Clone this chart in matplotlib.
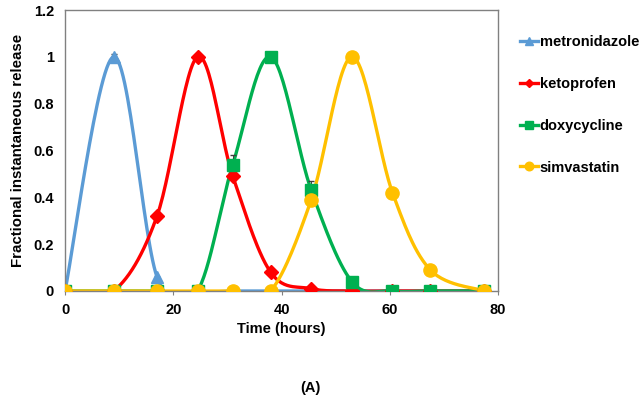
import numpy as np
import matplotlib
matplotlib.use("Agg")
import matplotlib.pyplot as plt
from matplotlib.ticker import FuncFormatter

time_h = [0, 9, 17, 24.5, 31, 38, 45.5, 53, 60.5, 67.5, 77.5]
metronidazole = [0, 1.0, 0.06, 0.0, 0, 0, 0, 0, 0, 0, 0]
ketoprofen = [0, 0, 0.32, 1.0, 0.49, 0.08, 0.01, 0.0, 0, 0, 0]
doxycycline = [0, 0, 0, 0, 0.54, 1.0, 0.43, 0.04, 0, 0, 0]
simvastatin = [0, 0, 0, 0, 0, 0, 0.39, 1.0, 0.42, 0.09, 0]
doxy_err = [0, 0, 0, 0, 0.04, 0, 0.04, 0, 0, 0, 0]
metro_err = [0, 0.01, 0, 0, 0, 0, 0, 0, 0, 0, 0]

series_names = ["metronidazole", "ketoprofen", "doxycycline", "simvastatin"]
colors = ["#5B9BD5", "#FF0000", "#00B050", "#FFC000"]
markers = ["^", "D", "s", "o"]
msizes = [8.5, 7.0, 8.5, 9.5]

plt.rcParams['font.family'] = ['Liberation Sans', 'DejaVu Sans']
plt.rcParams['font.weight'] = 'bold'


def smooth(x, y, n=30):
    P = np.column_stack([x, y]).astype(float)
    out = []
    m = len(P)
    for i in range(m - 1):
        p0 = P[i - 1] if i > 0 else P[i]
        p1 = P[i]
        p2 = P[i + 1]
        p3 = P[i + 2] if i + 2 < m else P[i + 1]
        c1 = p1 + (p2 - p0) / 6.0
        c2 = p2 - (p3 - p1) / 6.0
        t = np.linspace(0, 1, n)[:, None]
        seg = ((1 - t) ** 3) * p1 + 3 * ((1 - t) ** 2) * t * c1 + 3 * (1 - t) * t ** 2 * c2 + t ** 3 * p2
        if i > 0:
            seg = seg[1:]
        out.append(seg)
    out = np.vstack(out)
    return out[:, 0], out[:, 1]


fig = plt.figure(figsize=(6.43, 4.04), dpi=100)
ax = fig.add_axes([65 / 643, 1 - 291 / 404, (498 - 65) / 643, (291 - 10) / 404])

data = [metronidazole, ketoprofen, doxycycline, simvastatin]
errs = [metro_err, None, doxy_err, None]
handles = []
for name, vals, c, mk, ms, e in zip(series_names, data, colors, markers, msizes, errs):
    sx, sy = smooth(time_h, vals)
    ax.plot(sx, sy, color=c, lw=2.4, zorder=2, solid_capstyle='round')
    if e is not None:
        ax.errorbar(time_h, vals, yerr=[[0] * len(e), e], fmt='none', ecolor='#404040',
                    elinewidth=0.7, capsize=2, zorder=2.5)
    ax.plot(time_h, vals, linestyle='none', marker=mk, color=c, markersize=ms, zorder=3)
    h, = ax.plot([], [], color=c, lw=2.4, marker=mk, markersize=ms * 0.65)
    handles.append(h)

ax.set_xlim(0, 80)
ax.set_ylim(0, 1.2)
ax.set_xticks([0, 20, 40, 60, 80])
ax.set_yticks([0, 0.2, 0.4, 0.6, 0.8, 1.0, 1.2])
ax.yaxis.set_major_formatter(FuncFormatter(lambda v, p: ('%g' % round(v, 2))))
for s in ax.spines.values():
    s.set_color('#808080')
    s.set_linewidth(1.0)
ax.tick_params(axis='both', labelsize=10.5, length=3, width=0.8, color='#808080', pad=6)
ax.tick_params(axis='y', length=0, pad=8)
for lab in ax.get_xticklabels() + ax.get_yticklabels():
    lab.set_fontweight('bold')

ax.set_xlabel("Time (hours)", fontsize=10.5, fontweight='bold', labelpad=3)
ax.set_ylabel("Fractional instantaneous release", fontsize=10.8, fontweight='bold', labelpad=6)

leg = fig.legend(handles, series_names, loc='center left', bbox_to_anchor=(514 / 643, 1 - 105 / 404),
                 frameon=False, fontsize=10.5, handlelength=1.25, handletextpad=0.1,
                 labelspacing=1.9, borderaxespad=0)
for t in leg.get_texts():
    t.set_fontweight('bold')

fig.text(310 / 643, 1 - 388 / 404, "(A)", ha='center', va='center', fontsize=10.5, fontweight='bold')

fig.savefig("out.png", dpi=100)
